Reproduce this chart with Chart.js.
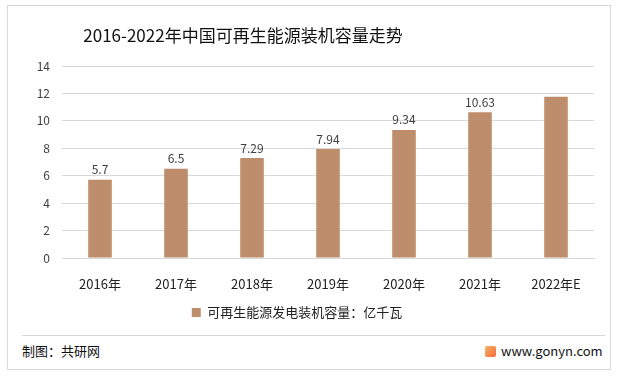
<!DOCTYPE html>
<html><head><meta charset="utf-8">
<script src="https://cdn.jsdelivr.net/npm/chart.js@4"></script>
<style>
html,body{margin:0;padding:0;background:#fff;}
body{width:617px;height:377px;position:relative;overflow:hidden;font-family:"Noto Sans CJK SC","Noto Sans",sans-serif;}
#frame{position:absolute;left:7px;top:5px;width:604px;height:365px;border:1px solid #d9d9d9;box-sizing:border-box;}
#title{position:absolute;left:0;width:486px;top:22px;text-align:center;font-size:17px;color:#111;}
#sep{position:absolute;left:22px;top:335px;width:583px;height:1px;background:#d9d9d9;}
#src{position:absolute;left:22px;top:341px;font-size:13px;color:#111;}
#url{position:absolute;left:501px;top:341px;font-size:13px;color:#111;}
#logo{position:absolute;left:485px;top:346px;width:11px;height:11px;background:linear-gradient(135deg,#f7b267,#f26a3a);border-radius:2px;}
#wrap{position:absolute;left:0;top:0;width:617px;height:335px;}
</style></head>
<body>
<div id="frame"></div>
<div id="wrap"><canvas id="c" width="617" height="335"></canvas></div>
<div id="title">2016-2022年中国可再生能源装机容量走势</div>
<div id="sep"></div>
<div id="src">制图：共研网</div>
<div id="logo"></div>
<div id="url">www.gonyn.com</div>
<script>
const categories = ["2016年","2017年","2018年","2019年","2020年","2021年","2022年E"];
const values = [5.7, 6.5, 7.29, 7.94, 9.34, 10.63, 11.75];
const labels = ["5.7","6.5","7.29","7.94","9.34","10.63",""];
const seriesName = "可再生能源发电装机容量：亿千瓦";

const valueLabels = {
  id:'valueLabels',
  afterDatasetsDraw(chart){
    const ctx = chart.ctx;
    const meta = chart.getDatasetMeta(0);
    ctx.save();
    ctx.font = '12px "Noto Sans CJK SC", sans-serif';
    ctx.fillStyle = '#404040';
    ctx.textAlign = 'center';
    ctx.textBaseline = 'bottom';
    meta.data.forEach((bar,i)=>{
      if(labels[i]) ctx.fillText(labels[i], bar.x, bar.y - 4);
    });
    ctx.restore();
  }
};

new Chart(document.getElementById('c'), {
  type:'bar',
  data:{labels:categories, datasets:[{label:seriesName, data:values, backgroundColor:'#BD8D6C', categoryPercentage:1, barPercentage:0.31}]},
  options:{
    responsive:false, animation:false,
    layout:{padding:{left:0,right:23,top:66,bottom:6}},
    plugins:{
      legend:{position:'bottom', labels:{boxWidth:9, boxHeight:9, color:'#222', font:{size:13,family:'"Noto Sans CJK SC", sans-serif'}, padding:10}},
      tooltip:{enabled:false}
    },
    scales:{
      x:{grid:{display:false}, border:{color:'#d9d9d9'}, ticks:{color:'#222', font:{size:13,family:'"Noto Sans CJK SC", sans-serif'}, padding:10},
         afterFit(s){s.height=38;}},
      y:{min:0,max:14, ticks:{stepSize:2, color:'#404040', font:{size:12,family:'"Noto Sans CJK SC", sans-serif'}, padding:12},
         grid:{color:'#d9d9d9', drawTicks:false}, border:{display:false},
         afterFit(s){s.width=62;}}
    }
  },
  plugins:[valueLabels]
});
</script>
</body></html>
